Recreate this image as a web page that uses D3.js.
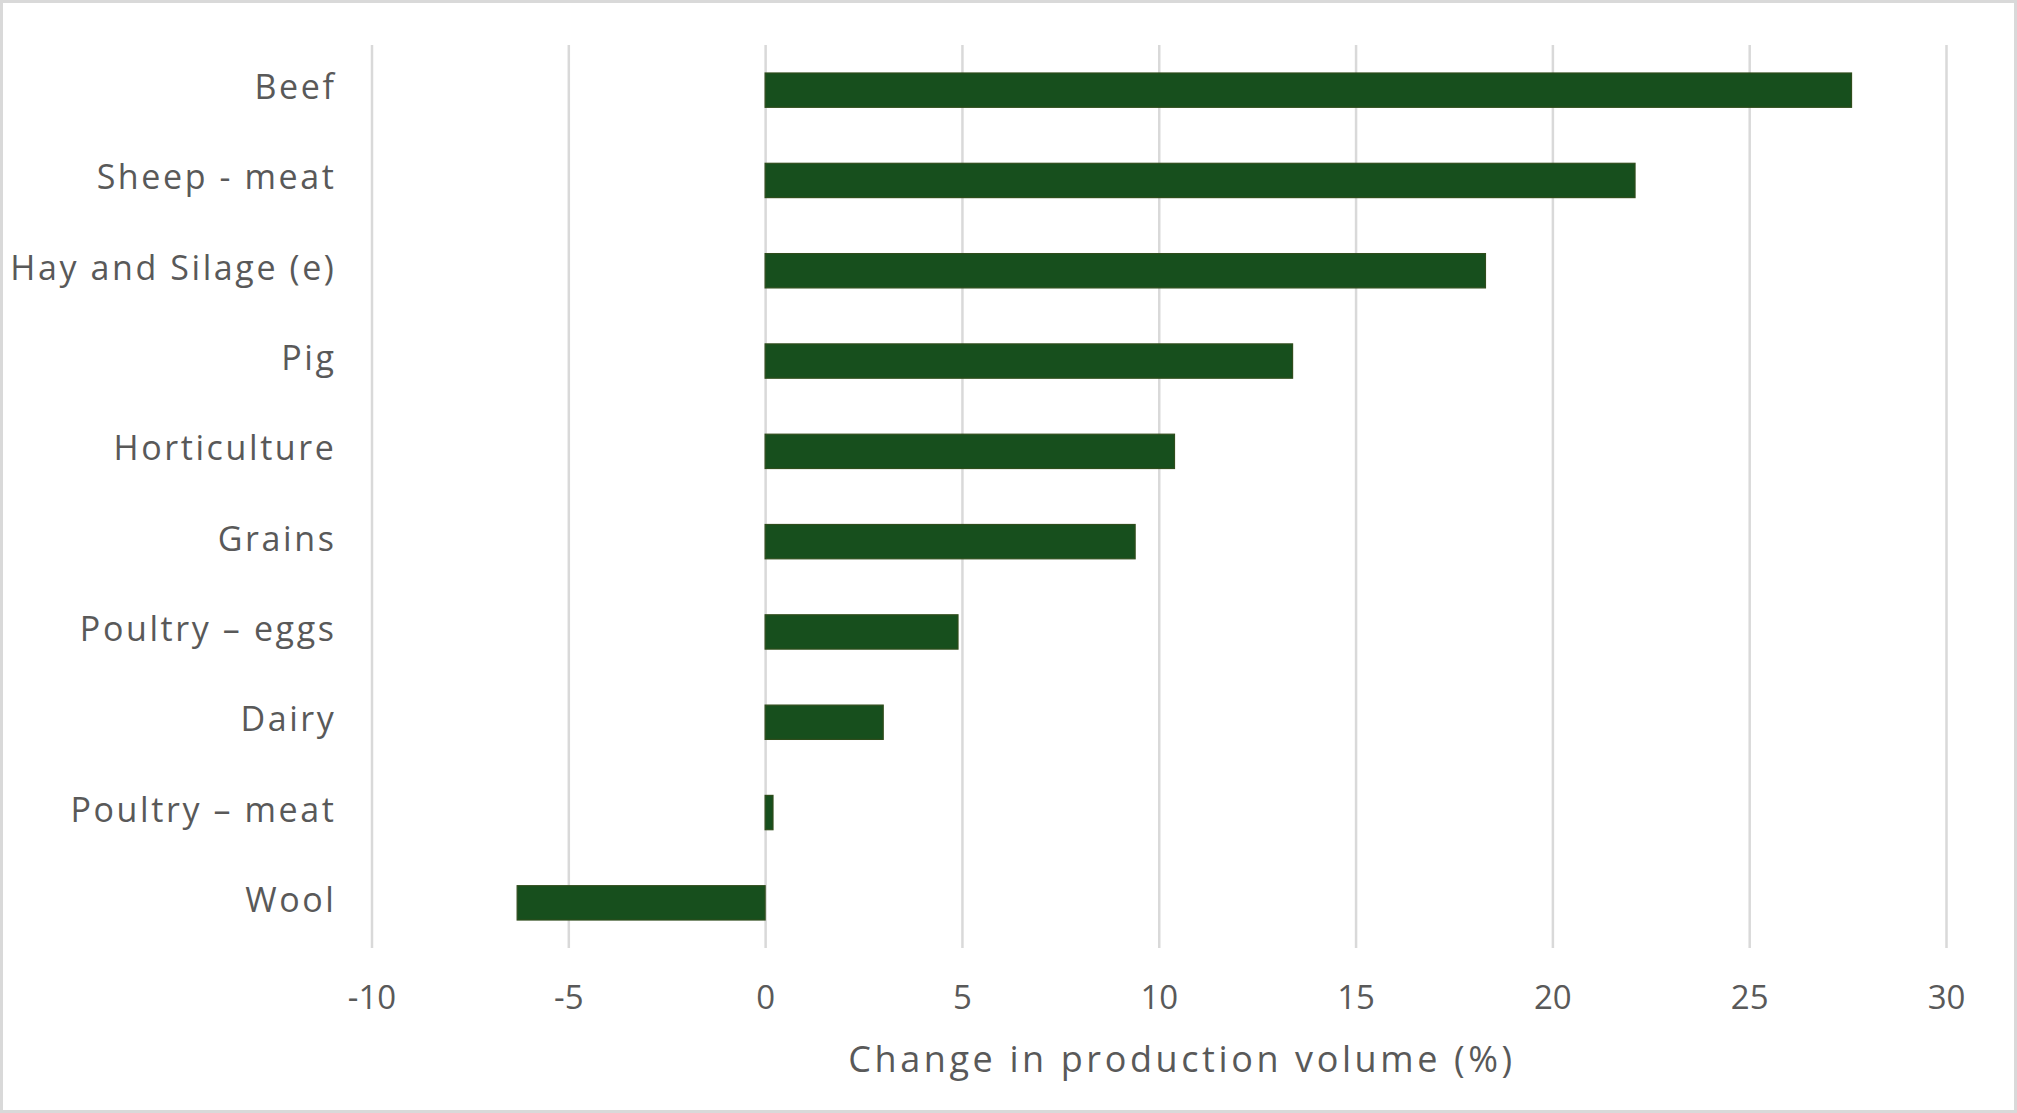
<html>
	<head>
		<title>Change in production volume</title>
		<script src="https://d3js.org/d3.v7.min.js" charset="utf-8"></script>
		<style>
		body {
			margin: 0;
			background: white;
			font-family: "Open Sans", "Noto Sans", sans-serif;
			}
		.lbl text {
			fill: #595959;
			font-size: 33px;
			}
		.cat text {
			font-size: 34px;
			letter-spacing: 2.6px;
			}
		</style>
	</head>
	<body>
		<script>
		//size of the picture
		var width = 2017;
		var height = 1113;

		//categories, top to bottom
		var categories = ["Beef", "Sheep - meat", "Hay and Silage (e)", "Pig", "Horticulture",
			"Grains", "Poultry \u2013 eggs", "Dairy", "Poultry \u2013 meat", "Wool"];
		//change in production volume (%)
		var values = [27.6, 22.1, 18.3, 13.4, 10.4, 9.4, 4.9, 3.0, 0.2, -6.3];
		//x axis ticks
		var xTicks = [-10, -5, 0, 5, 10, 15, 20, 25, 30];
		var xTitle = "Change in production volume (%)";

		//plot area (not called "top" - that name belongs to window)
		var plotLeft = 371.5, plotRight = 1946, plotTop = 45, plotBottom = 948;

		var x = d3.scaleLinear().domain([-10, 30]).range([plotLeft, plotRight]);
		var y = d3.scaleBand().domain(categories).range([plotTop, plotBottom])
			.paddingInner(0.62).paddingOuter(0.31);

		var svg = d3.select("body")
			.append("svg")
			.attr("width", width)
			.attr("height", height);

		//chart border
		svg.append("rect")
			.attr("x", 1.5).attr("y", 1.5)
			.attr("width", width - 3).attr("height", height - 3)
			.attr("fill", "white")
			.attr("stroke", "#d9d9d9")
			.attr("stroke-width", 3);

		//gridlines + tick labels
		var gx = svg.append("g")
			.attr("class", "lbl")
			.attr("transform", "translate(0," + plotBottom + ")")
			.call(d3.axisBottom(x).tickValues(xTicks).tickSize(-(plotBottom - plotTop))
				.tickFormat(function(d) { return String(d); }));
		gx.attr("font-family", null).attr("font-size", null);
		gx.select(".domain").remove();
		gx.selectAll(".tick line").attr("stroke", "#d9d9d9").attr("stroke-width", 2.5);
		gx.selectAll(".tick text").attr("y", 61).attr("dy", 0);

		//category labels
		var gy = svg.append("g")
			.attr("class", "lbl cat")
			.attr("transform", "translate(" + plotLeft + ",0)")
			.call(d3.axisLeft(y).tickSize(0));
		gy.attr("font-family", null).attr("font-size", null);
		gy.select(".domain").remove();
		// letter-spacing leaves a gap after the last glyph, so push right a bit
		gy.selectAll(".tick text").attr("x", -35).attr("dy", 0).attr("y", 9);

		//bars
		svg.append("g").selectAll("rect")
			.data(values)
			.enter()
			.append("rect")
			.attr("x", function(d) { return x(Math.min(0, d)); })
			.attr("y", function(d, i) { return y(categories[i]); })
			.attr("width", function(d) { return Math.abs(x(d) - x(0)); })
			.attr("height", y.bandwidth())
			.attr("fill", "#174f1d")
			.attr("stroke", "#2f4d1c")
			.attr("stroke-width", 1.2);

		//axis title
		svg.append("text")
			.attr("x", 1182)
			.attr("y", 1072)
			.attr("text-anchor", "middle")
			.attr("fill", "#595959")
			.attr("font-size", "36px")
			.attr("letter-spacing", "3.6px")
			.text(xTitle);
		</script>
	</body>
</html>
